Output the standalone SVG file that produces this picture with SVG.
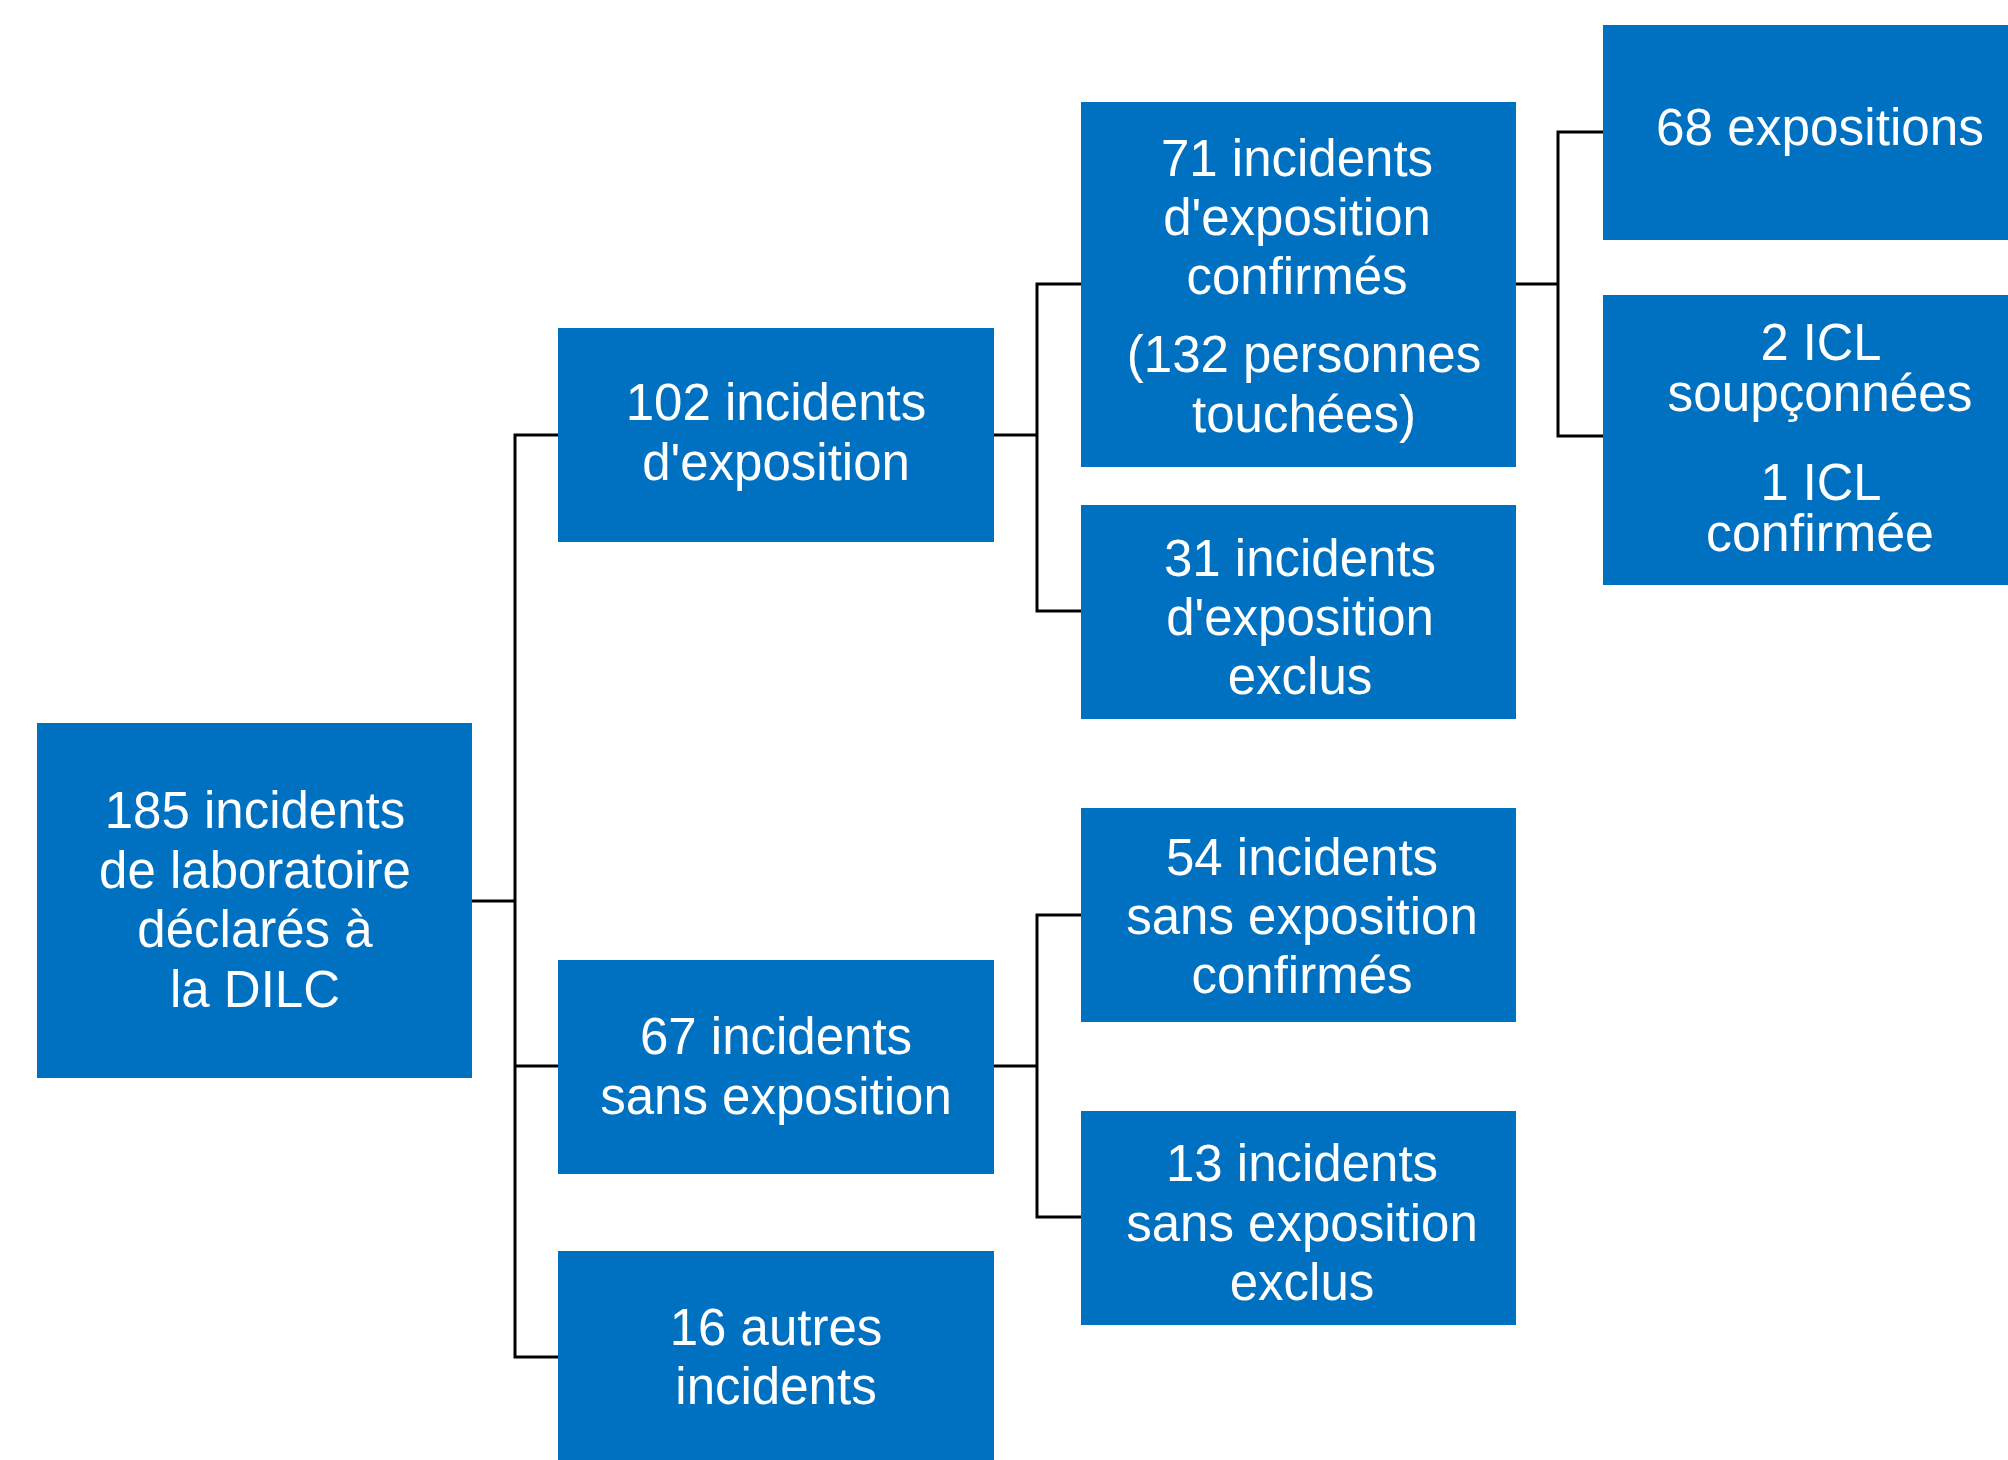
<svg xmlns="http://www.w3.org/2000/svg" width="2008" height="1460" viewBox="0 0 2008 1460">
<style>
.box{fill:#0070C0}
.t{font-family:"Liberation Sans",Arial,sans-serif;font-size:51px;fill:#fff;text-anchor:middle}
.t2{font-family:"Liberation Sans",Arial,sans-serif;font-size:51px;fill:#fff;text-anchor:middle}
.c{fill:none;stroke:#000;stroke-width:3}
</style>
<rect width="2008" height="1460" fill="#fff"/>
<g id="connectors">
<path class="c" d="M472 901H515M558 435H515V1357H558M515 1066H558"/>
<path class="c" d="M994 435H1037M1081 284H1037V611H1081"/>
<path class="c" d="M994 1066H1037M1081 915H1037V1217H1081"/>
<path class="c" d="M1516 284H1558M1603 132H1558V436H1603"/>
</g>
<g id="n185">
<rect class="box" x="37" y="723" width="435" height="355"/>
<text class="t"><tspan x="255" y="828">185 incidents</tspan><tspan x="255" y="888">de laboratoire</tspan><tspan x="255" y="947">déclarés à</tspan><tspan x="255" y="1007">la DILC</tspan></text>
</g>
<g id="n102">
<rect class="box" x="558" y="328" width="436" height="214"/>
<text class="t"><tspan x="776" y="420">102 incidents</tspan><tspan x="776" y="480">d'exposition</tspan></text>
</g>
<g id="n67">
<rect class="box" x="558" y="960" width="436" height="214"/>
<text class="t"><tspan x="776" y="1054">67 incidents</tspan><tspan x="776" y="1114">sans exposition</tspan></text>
</g>
<g id="n16">
<rect class="box" x="558" y="1251" width="436" height="214"/>
<text class="t"><tspan x="776" y="1345">16 autres</tspan><tspan x="776" y="1404">incidents</tspan></text>
</g>
<g id="n71">
<rect class="box" x="1081" y="102" width="435" height="365"/>
<text class="t"><tspan x="1297" y="176">71 incidents</tspan><tspan x="1297" y="235">d'exposition</tspan><tspan x="1297" y="294">confirmés</tspan><tspan x="1304" y="372">(132 personnes</tspan><tspan x="1304" y="432">touchées)</tspan></text>
</g>
<g id="n31">
<rect class="box" x="1081" y="505" width="435" height="214"/>
<text class="t"><tspan x="1300" y="576">31 incidents</tspan><tspan x="1300" y="635">d'exposition</tspan><tspan x="1300" y="694">exclus</tspan></text>
</g>
<g id="n54">
<rect class="box" x="1081" y="808" width="435" height="214"/>
<text class="t"><tspan x="1302" y="875">54 incidents</tspan><tspan x="1302" y="934">sans exposition</tspan><tspan x="1302" y="993">confirmés</tspan></text>
</g>
<g id="n13">
<rect class="box" x="1081" y="1111" width="435" height="214"/>
<text class="t"><tspan x="1302" y="1181">13 incidents</tspan><tspan x="1302" y="1241">sans exposition</tspan><tspan x="1302" y="1300">exclus</tspan></text>
</g>
<g id="n68">
<rect class="box" x="1603" y="25" width="420" height="215"/>
<text class="t2"><tspan x="1820" y="145" textLength="328" lengthAdjust="spacingAndGlyphs">68 expositions</tspan></text>
</g>
<g id="nICL">
<rect class="box" x="1603" y="295" width="420" height="290"/>
<text class="t2"><tspan x="1821" y="360" textLength="121" lengthAdjust="spacingAndGlyphs">2 ICL</tspan><tspan x="1820" y="411" textLength="305" lengthAdjust="spacingAndGlyphs">soupçonnées</tspan><tspan x="1821" y="500" textLength="121" lengthAdjust="spacingAndGlyphs">1 ICL</tspan><tspan x="1820" y="551" textLength="228" lengthAdjust="spacingAndGlyphs">confirmée</tspan></text>
</g>
</svg>
